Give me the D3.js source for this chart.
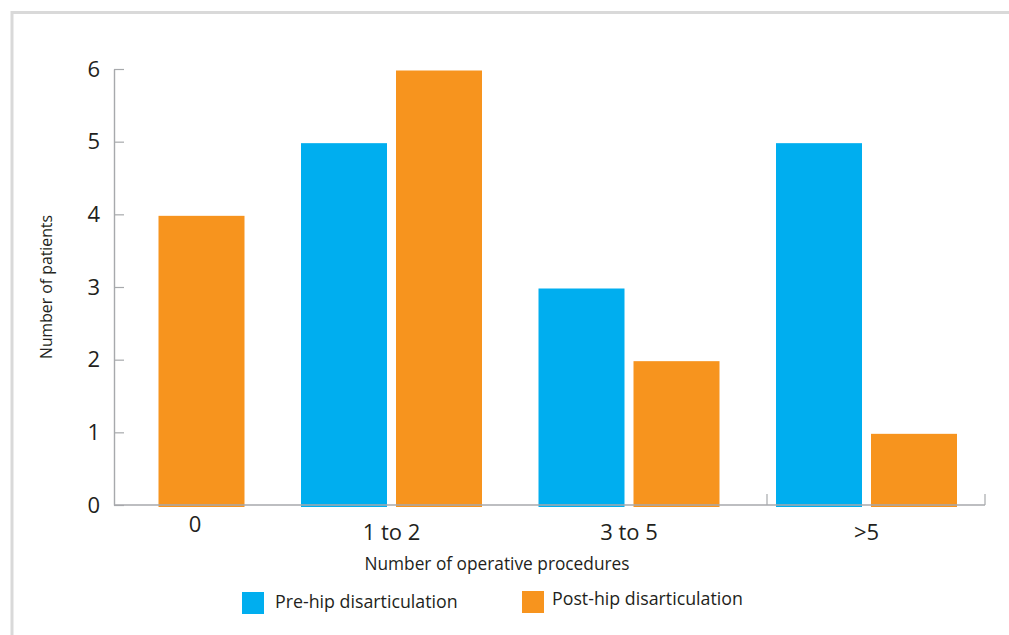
<!DOCTYPE html>
<html>
<head>
<meta charset="utf-8">
<script src="https://cdn.jsdelivr.net/npm/d3@7"></script>
<style>
  html, body { margin: 0; padding: 0; background: #fff; }
  svg { display: block; }
  text { font-family: "Open Sans", "Noto Sans", sans-serif; fill: #231f20; }
</style>
</head>
<body>
<svg id="chart" width="1009" height="635"></svg>
<script>
const categories = ["0", "1 to 2", "3 to 5", ">5"];
const seriesNames = ["Pre-hip disarticulation", "Post-hip disarticulation"];
const preValues = [0, 5, 3, 5];
const postValues = [4, 6, 2, 1];
const yTicks = [0, 1, 2, 3, 4, 5, 6];
const colors = ["#00aeef", "#f7941e"];

const svg = d3.select("#chart");

// frame
svg.append("line").attr("x1", 12).attr("x2", 12).attr("y1", 11).attr("y2", 635)
  .attr("stroke", "#d9d9d9").attr("stroke-width", 3);
svg.append("line").attr("x1", 11).attr("x2", 1009).attr("y1", 12.5).attr("y2", 12.5)
  .attr("stroke", "#d9d9d9").attr("stroke-width", 3);

const x = d3.scaleBand().domain(categories).range([63.5, 957])
  .paddingInner(56.5 / 237.5).paddingOuter(0);
const xs = d3.scaleBand().domain(seriesNames).range([0, x.bandwidth()])
  .paddingInner(9 / 95).paddingOuter(0);
const y = d3.scaleLinear().domain([0, 6]).range([505, 69]);

const data = categories.map((c, i) => ({ cat: c, values: [preValues[i], postValues[i]] }));

// bars
const g = svg.append("g");
data.forEach(d => {
  d.values.forEach((v, si) => {
    if (v <= 0) return;
    g.append("rect")
      .attr("x", x(d.cat) + xs(seriesNames[si]))
      .attr("y", y(v) + 1.5)
      .attr("width", xs.bandwidth())
      .attr("height", y(0) - y(v) + 0.5)
      .attr("fill", colors[si]);
  });
});

// y axis
const axisColor = "#a7a9ac";
const yAxis = svg.append("g").attr("transform", "translate(114,0)")
  .call(d3.axisLeft(y).tickValues(yTicks).tickFormat(d3.format("d")).tickSize(-10).tickPadding(14).tickSizeOuter(0));
yAxis.select(".domain").attr("stroke", axisColor).attr("stroke-width", 1.4);
yAxis.selectAll(".tick line").attr("stroke", axisColor).attr("stroke-width", 1.2);
yAxis.selectAll(".tick text").attr("font-size", 22).attr("fill", "#231f20")
  .attr("font-family", "'Open Sans', sans-serif");

// x axis line
const xEnd = x.range()[1] + 28;
svg.append("line").attr("x1", 114).attr("x2", xEnd).attr("y1", y(0)).attr("y2", y(0))
  .attr("stroke", axisColor).attr("stroke-width", 1.4);
// boundary ticks
[x(">5") - 9, xEnd].forEach(tx => {
  svg.append("line").attr("x1", tx).attr("x2", tx).attr("y1", y(0)).attr("y2", y(0) - 11)
    .attr("stroke", axisColor).attr("stroke-width", 1.2);
});

// x labels
categories.forEach((c, i) => {
  const special = i === 0;
  svg.append("text")
    .attr("x", x(c) + x.bandwidth() / 2 + (special ? 41 : 0))
    .attr("y", special ? 532 : 540)
    .attr("text-anchor", "middle")
    .attr("font-size", 22)
    .text(c);
});

// axis titles
svg.append("text").attr("x", 497).attr("y", 570).attr("text-anchor", "middle")
  .attr("font-size", 17.3).text("Number of operative procedures");
svg.append("text").attr("transform", "translate(52,287) rotate(-90)")
  .attr("text-anchor", "middle").attr("font-size", 15.8).text("Number of patients");

// legend
const legendPos = [{ sx: 242, sy: 592, tx: 275, ty: 608 }, { sx: 522, sy: 591, tx: 552, ty: 605 }];
seriesNames.forEach((s, i) => {
  const p = legendPos[i];
  svg.append("rect").attr("x", p.sx).attr("y", p.sy).attr("width", 22).attr("height", 22).attr("fill", colors[i]);
  svg.append("text").attr("x", p.tx).attr("y", p.ty).attr("font-size", 17.8).text(s);
});
</script>
</body>
</html>
